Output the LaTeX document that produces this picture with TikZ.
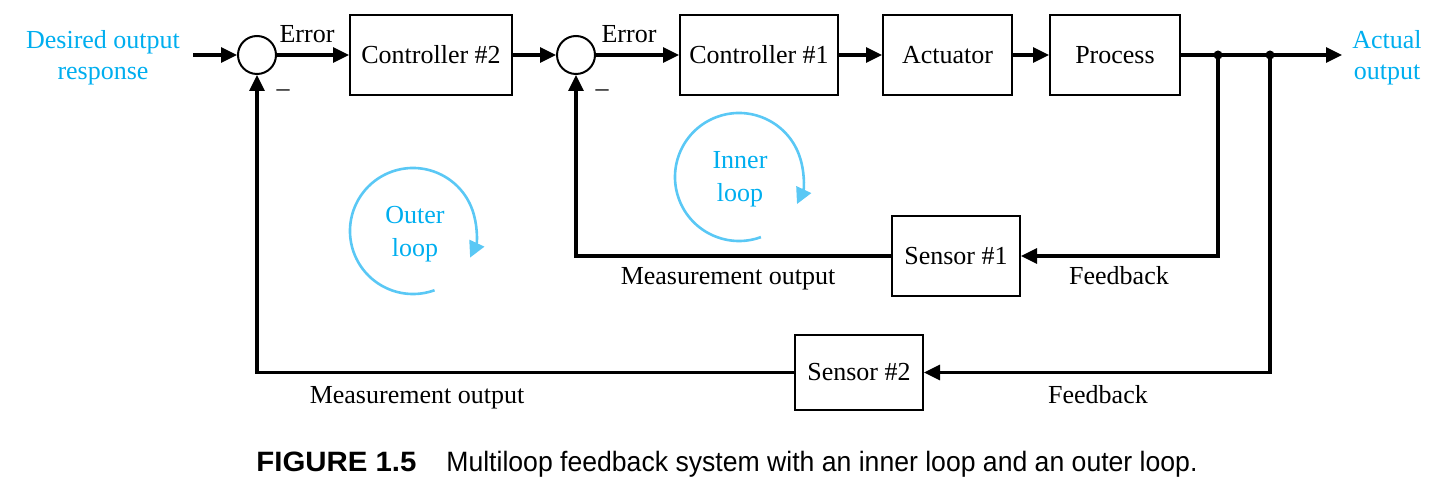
\documentclass[tikz,border=0pt]{standalone}
\usepackage{fontspec}
\setmainfont{Liberation Serif}
\newfontfamily\figcapfont{Liberation Sans}
\usepackage{xcolor}
\usetikzlibrary{arrows.meta, positioning}

\definecolor{loopblue}{RGB}{0,174,239}
\definecolor{looparc}{RGB}{90,200,245}

\begin{document}
\begin{tikzpicture}[x=0.5pt, y=-0.5pt,
		every node/.style={font=\fontsize{13}{15.5}\selectfont},
		block/.style={draw, line width=1pt, minimum height=40pt, inner sep=0pt},
		sumjct/.style={draw, circle, line width=1pt, minimum size=19pt, inner sep=0pt},
		signal/.style={line width=1.6pt, -{Triangle[length=8pt, width=7.5pt]}},
		looparrow/.style={draw=looparc, line width=1.3pt, -{Triangle[length=8pt, width=8pt]}},
		bluetext/.style={text=loopblue, align=center},
		looptext/.style={text=loopblue, align=center, font=\fontsize{13}{16.5}\selectfont},
		tapdot/.style={fill, circle, minimum size=4.5pt, inner sep=0pt}]
	\useasboundingbox (0,0) rectangle (1442,496);

	% forward path
	\coordinate (in) at (193,55);
	\node[sumjct] (sum1) at (257,55) {};
	\node[block, minimum width=81pt] (ctrlB) at (431,55) {Controller \#2};
	\node[sumjct] (sum2) at (576,55) {};
	\node[block, minimum width=79pt] (ctrlA) at (759,55) {Controller \#1};
	\node[block, minimum width=64.5pt] (act) at (947.5,55) {Actuator};
	\node[block, minimum width=65pt] (proc) at (1115,55) {Process};
	\node[tapdot] (tapA) at (1218,55) {};
	\node[tapdot] (tapB) at (1270,55) {};
	\coordinate (out) at (1342,55);

	% feedback sensors
	\node[block, minimum width=64pt] (sensA) at (956,256) {Sensor \#1};
	\node[block, minimum width=64pt, minimum height=37.5pt] (sensB) at (859,372.5) {Sensor \#2};

	\draw[signal] (in) -- (sum1);
	\draw[signal] (sum1) -- (ctrlB);
	\draw[signal] (ctrlB) -- (sum2);
	\draw[signal] (sum2) -- (ctrlA);
	\draw[signal] (ctrlA) -- (act);
	\draw[signal] (act) -- (proc);
	\draw[signal] (proc) -- (out);
	\draw[signal] (tapA.center) |- (sensA);
	\draw[signal] (sensA) -| (sum2);
	\draw[signal] (tapB.center) |- (sensB);
	\draw[signal] (sensB) -| (sum1);

	% labels
	\node[bluetext] (desired) at (103,58) {Desired output\\response};
	\node[bluetext] (actual) at (1387,58) {Actual\\output};
	\node (errB) at (307,34) {Error};
	\node (errA) at (629,34) {Error};
	\node (minusB) at (283,93) {--};
	\node (minusA) at (602,93) {--};
	\node (measA) at (728,279) {Measurement output};
	\node (fbA) at (1119,276) {Feedback};
	\node (measB) at (417,398) {Measurement output};
	\node (fbB) at (1098,395) {Feedback};

	% loop markers
	\node[looptext] (outer) at (415,234) {Outer\\loop};
	\node[looptext] (inner) at (740,179) {Inner\\loop};
	\begin{scope}[shift={(413,231)}, yscale=-1]
		\draw[looparrow] (290:63) arc[start angle=290, end angle=-25, radius=63];
	\end{scope}
	\begin{scope}[shift={(739,177)}, yscale=-1]
		\draw[looparrow] (290:64) arc[start angle=290, end angle=-25, radius=64];
	\end{scope}

	% caption
	\node[anchor=base west, inner sep=0pt, xscale=1.05, font=\figcapfont\bfseries\fontsize{14}{16}\selectfont] (figno) at (256,472) {FIGURE 1.5};
	\node[anchor=base west, inner sep=0pt, xscale=0.95, font=\figcapfont\fontsize{14}{16}\selectfont] (figtext) at (446,472) {Multiloop feedback system with an inner loop and an outer loop.};
\end{tikzpicture}
\end{document}
